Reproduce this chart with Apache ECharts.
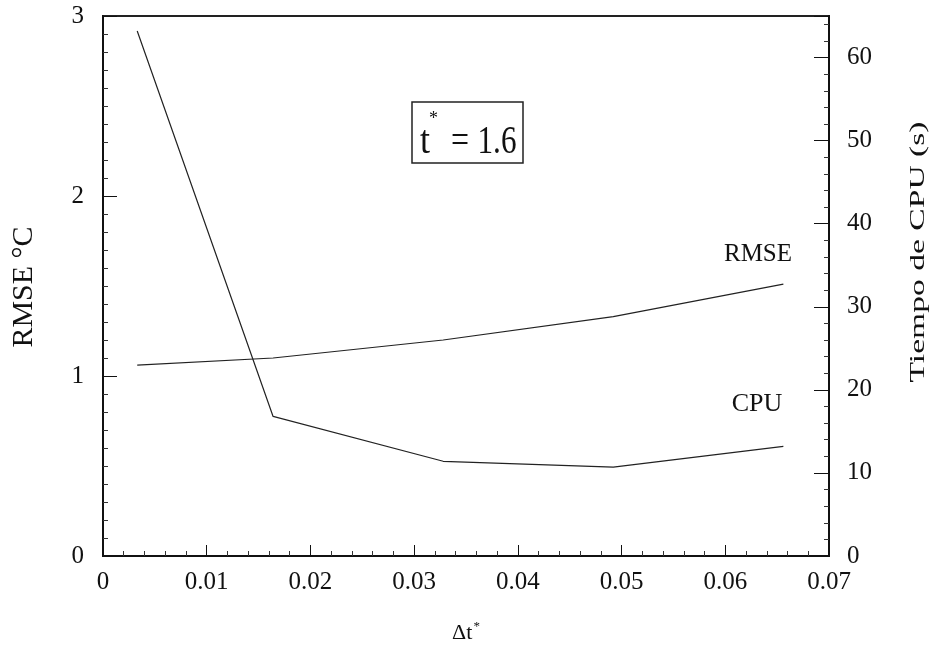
<!DOCTYPE html>
<html>
<head>
<meta charset="utf-8">
<script src="https://cdn.jsdelivr.net/npm/echarts@6/dist/echarts.min.js"></script>
<style>
  html, body { margin: 0; padding: 0; background: #fff; }
  #chart { width: 936px; height: 645px; }
</style>
</head>
<body>
<div id="chart"></div>
<script>
// Time step (dimensionless) and the two measured quantities
const deltaT = [0.0033, 0.0164, 0.0328, 0.0492, 0.0656];
const rmse = [1.06, 1.10, 1.20, 1.33, 1.51];      // RMSE, °C (left axis)
const cpuTime = [63.2, 16.8, 11.4, 10.7, 13.2];   // CPU time, s (right axis)

const xRange = [0, 0.07];
const rmseRange = [0, 3];
const cpuRange = [0, 65];

const serif = '"Liberation Serif", "DejaVu Serif", serif';
const ink = '#111';

const pairs = (xs, ys) => xs.map((x, i) => [x, ys[i]]);

const chart = echarts.init(document.getElementById('chart'), null, { renderer: 'canvas' });

const labelStyle = { color: ink, fontFamily: serif, fontSize: 25 };

chart.setOption({
  backgroundColor: '#fff',
  animation: false,
  grid: {
    left: 103, right: 107, top: 16, bottom: 89,
    show: true, borderColor: '#222', borderWidth: 2,
    outerBoundsMode: 'none'
  },
  xAxis: {
    type: 'value',
    min: xRange[0], max: xRange[1], interval: 0.01,
    axisLine: { show: true, lineStyle: { color: ink, width: 2 } },
    axisTick: { show: true, inside: true, length: 11, lineStyle: { color: ink, width: 1 } },
    minorTick: { show: true, splitNumber: 5, length: 5, lineStyle: { color: '#333', width: 1 } },
    splitLine: { show: false },
    axisLabel: Object.assign({ margin: 14, formatter: v => (v === 0 ? '0' : v.toFixed(2)) }, labelStyle)
  },
  yAxis: [
    {
      type: 'value', position: 'left',
      min: rmseRange[0], max: rmseRange[1], interval: 1,
      axisLine: { show: true, lineStyle: { color: ink, width: 2 } },
      axisTick: { show: true, inside: true, length: 14, lineStyle: { color: ink, width: 1 } },
      minorTick: { show: true, splitNumber: 10, length: 5, lineStyle: { color: '#333', width: 1 } },
      splitLine: { show: false },
      axisLabel: Object.assign({ margin: 19 }, labelStyle)
    },
    {
      type: 'value', position: 'right',
      min: cpuRange[0], max: cpuRange[1], interval: 10,
      axisLine: { show: true, lineStyle: { color: ink, width: 2 } },
      axisTick: { show: true, inside: true, length: 15, lineStyle: { color: ink, width: 1 } },
      minorTick: { show: true, splitNumber: 5, length: 5, lineStyle: { color: '#333', width: 1 } },
      splitLine: { show: false },
      axisLabel: Object.assign({ margin: 18, showMaxLabel: false }, labelStyle)
    }
  ],
  series: [
    {
      name: 'RMSE', type: 'line', yAxisIndex: 0,
      data: pairs(deltaT, rmse),
      symbol: 'none', lineStyle: { color: '#222', width: 1.2 }
    },
    {
      name: 'CPU', type: 'line', yAxisIndex: 1,
      data: pairs(deltaT, cpuTime),
      symbol: 'none', lineStyle: { color: '#222', width: 1.2 }
    }
  ],
  graphic: [
    // axis titles
    {
      type: 'text', x: 24, y: 287, rotation: Math.PI / 2,
      style: { text: 'RMSE °C', fill: ink, font: '30px ' + serif, textAlign: 'center', textVerticalAlign: 'middle' }
    },
    {
      type: 'text', x: 918, y: 252, rotation: Math.PI / 2, scaleX: 1.6,
      style: { text: 'Tiempo de CPU (s)', fill: ink, font: '21px ' + serif, textAlign: 'center', textVerticalAlign: 'middle' }
    },
    {
      type: 'text', x: 466, y: 633,
      style: {
        text: '{a|Δt}{s|*}', textAlign: 'center', textVerticalAlign: 'middle',
        rich: {
          a: { fill: ink, fontFamily: serif, fontSize: 22 },
          s: { fill: ink, fontFamily: serif, fontSize: 13, padding: [0, 0, 12, 1] }
        }
      }
    },
    // series captions
    {
      type: 'text', x: 758, y: 254,
      style: { text: 'RMSE', fill: ink, font: '25px ' + serif, textAlign: 'center', textVerticalAlign: 'middle' }
    },
    {
      type: 'text', x: 757, y: 404,
      style: { text: 'CPU', fill: ink, font: '26px ' + serif, textAlign: 'center', textVerticalAlign: 'middle' }
    },
    // parameter box: t* = 1.6
    {
      type: 'rect',
      shape: { x: 412, y: 102, width: 111, height: 61 },
      style: { fill: 'none', stroke: '#222', lineWidth: 1.5 }
    },
    {
      type: 'group', x: 0, y: 0,
      children: [
        { type: 'text', x: 420, y: 142, scaleX: 0.9,
          style: { text: 't', fill: ink, font: '40px ' + serif, textAlign: 'left', textVerticalAlign: 'middle' } },
        { type: 'text', x: 429, y: 119,
          style: { text: '*', fill: ink, font: '18px ' + serif, textAlign: 'left', textVerticalAlign: 'middle' } },
        { type: 'text', x: 460, y: 142, scaleX: 0.8,
          style: { text: '=', fill: ink, font: '40px ' + serif, textAlign: 'center', textVerticalAlign: 'middle' } },
        { type: 'text', x: 497, y: 142, scaleX: 0.78,
          style: { text: '1.6', fill: ink, font: '40px ' + serif, textAlign: 'center', textVerticalAlign: 'middle' } }
      ]
    }
  ]
});
</script>
</body>
</html>
